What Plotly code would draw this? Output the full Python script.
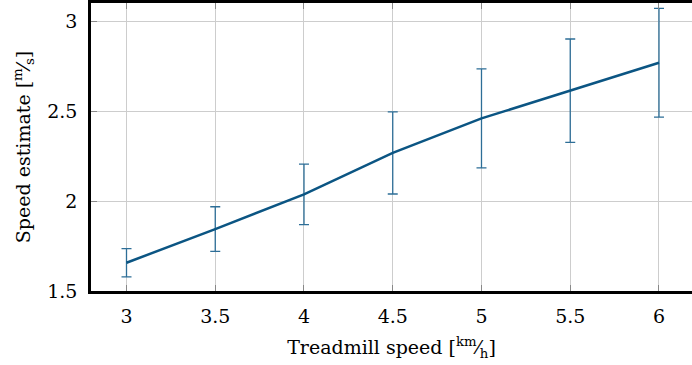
import plotly.graph_objects as go

treadmill_speed = [3, 3.5, 4, 4.5, 5, 5.5, 6]
speed_estimate = [1.657, 1.844, 2.037, 2.267, 2.459, 2.613, 2.768]
speed_error = [0.078, 0.124, 0.168, 0.228, 0.275, 0.287, 0.302]

x_ticks = [3, 3.5, 4, 4.5, 5, 5.5, 6]
x_tick_labels = ["3", "3.5", "4", "4.5", "5", "5.5", "6"]
y_ticks = [1.5, 2, 2.5, 3]
y_tick_labels = ["1.5", "2", "2.5", "3"]

FONT = "DejaVu Serif"
LINE = "#0b5583"

fig = go.Figure()
fig.add_trace(go.Scatter(
    x=treadmill_speed, y=speed_estimate, mode="lines",
    line=dict(color=LINE, width=2.5),
    error_y=dict(type="data", array=speed_error, visible=True,
                 color="#2d6e97", thickness=1.3, width=5),
    showlegend=False,
))

fig.update_layout(
    width=692, height=365,
    margin=dict(l=91, r=0, t=3, b=74, autoexpand=False),
    paper_bgcolor="white", plot_bgcolor="white",
    font=dict(family=FONT, size=19, color="black"),
)
fig.update_xaxes(
    range=[2.8, 6.186], tickvals=x_ticks, ticktext=x_tick_labels,
    showgrid=True, gridcolor="#cdcdcd", gridwidth=1,
    showline=True, linecolor="black", linewidth=2.5, mirror="ticks",
    ticks="inside", ticklen=6, tickcolor="#888888", tickwidth=1.2,
    ticklabelstandoff=6, zeroline=False,
    title=dict(text="Treadmill speed [<sup>km</sup>⁄<sub>h</sub>]", font=dict(size=19), standoff=16),
    automargin=False,
)
fig.update_yaxes(
    range=[1.5, 3.1], tickvals=y_ticks, ticktext=y_tick_labels,
    showgrid=True, gridcolor="#cdcdcd", gridwidth=1,
    showline=True, linecolor="black", linewidth=2.5, mirror=False,
    ticks="inside", ticklen=6, tickcolor="#888888", tickwidth=1.2,
    ticklabelstandoff=7, zeroline=False,
    title=dict(text="Speed estimate [<sup>m</sup>⁄<sub>s</sub>]", font=dict(size=19), standoff=12),
    automargin=False,
)
fig.write_html("out.html")
